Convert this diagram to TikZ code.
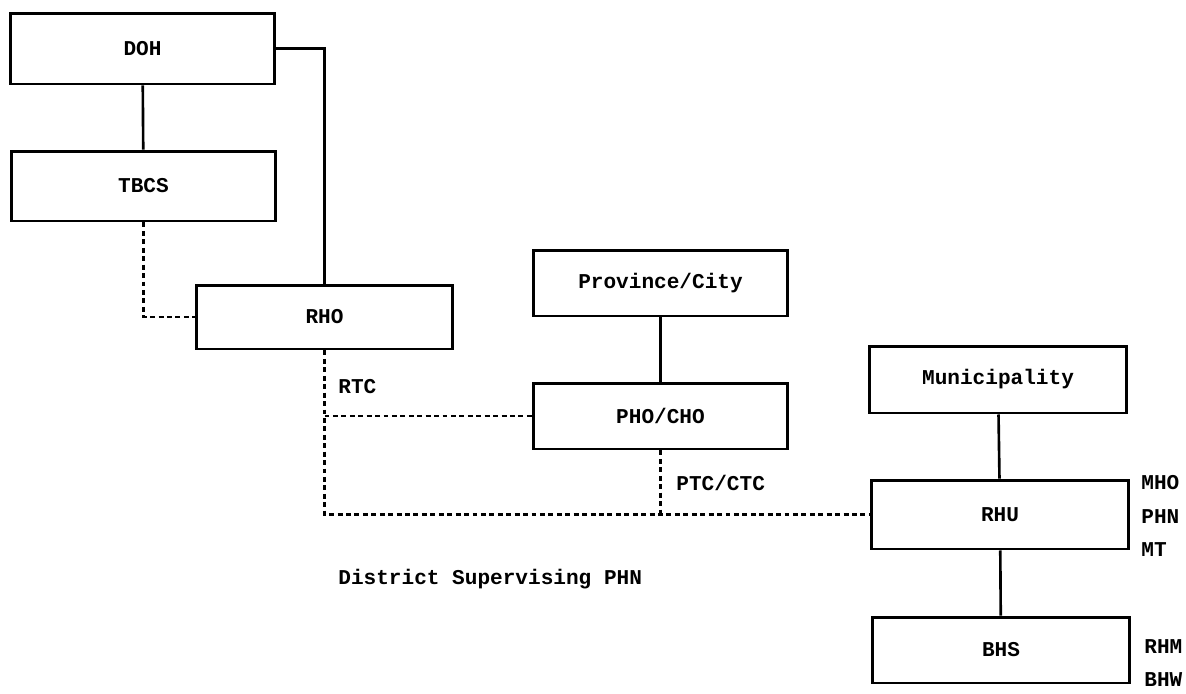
\documentclass[tikz,border=0pt]{standalone}
\usepackage{fontspec}
\setmonofont{Liberation Mono}
\usetikzlibrary{positioning}
\tikzset{
    every node/.style={font=\ttfamily\bfseries\fontsize{12}{19}\selectfont},
    link/.style={draw,line width=1.5pt},
    dotlink/.style={draw,line width=1.5pt,dash pattern=on 2.8pt off 2pt}
}

\begin{document}
\begin{tikzpicture}[x=0.02cm,y=-0.02cm,
                    unit/.style={draw,line width=1.7pt,minimum width=5.1cm,minimum height=1.3cm,inner sep=0pt},
                    tag/.style={anchor=west,align=left,inner sep=0pt}]
\useasboundingbox (0,0) rectangle (1186,693);

% Offices
\node[unit,minimum width=5.3cm,minimum height=1.42cm] (doh) at (142.5,48.5) {DOH};
\node[unit,minimum width=5.3cm,minimum height=1.4cm] (tbcs) at (143.5,186) {TBCS};
\node[unit,minimum width=5.14cm,minimum height=1.28cm] (rho) at (324.5,317) {RHO};
\node[unit,minimum height=1.32cm] (prov) at (660.5,283) {Province/City};
\node[unit,minimum height=1.32cm] (pho) at (660.5,416) {PHO/CHO};
\node[unit,minimum width=5.16cm,minimum height=1.34cm] (muni) at (998,379.5) {Municipality};
\node[unit,minimum width=5.16cm,minimum height=1.38cm] (rhu) at (1000,514.5) {RHU};
\node[unit,minimum width=5.16cm,minimum height=1.32cm] (bhs) at (1001,650) {BHS};

% Labels
\node[tag] (rtc) at (338,387) {RTC};
\node[tag] (ptc) at (676,483) {PTC/CTC};
\node[tag] (dsp) at (338,579) {District Supervising PHN};
\node[tag] (rhustaff) at (1141,516) {MHO\\PHN\\MT};
\node[tag] (bhsstaff) at (1144,663) {RHM\\BHW};

% Lines of authority
\path[link] (doh) -- (tbcs);
\path[link] (doh.east) -| (rho.north);
\path[link] (prov) -- (pho);
\path[link] (muni) -- (rhu);
\path[link] (rhu) -- (bhs);

% Technical supervision
\path[dotlink] (tbcs.south) |- (rho.west);
\path[dotlink] (rho.south) |- (rhu.west);
\path[dotlink] (rho.south |- pho.west) -- (pho.west);
\path[dotlink] (pho.south) -- (pho.south |- rhu.west);

\end{tikzpicture}
\end{document}
